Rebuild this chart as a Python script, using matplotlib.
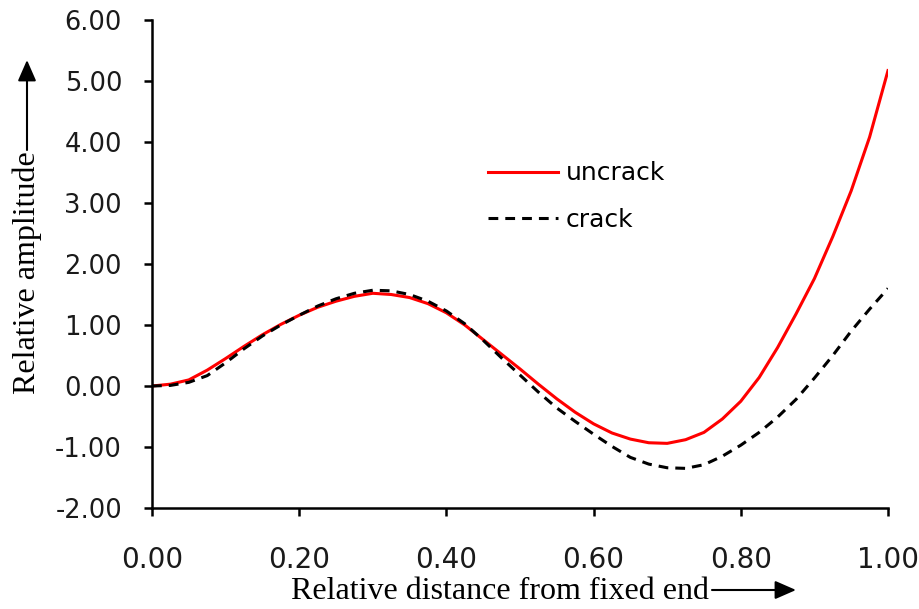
"""Relative amplitude along the beam: uncracked vs cracked mode shape."""

import matplotlib

matplotlib.use("Agg")
import matplotlib.pyplot as plt  # noqa: E402
from matplotlib.patches import FancyArrowPatch  # noqa: E402

# relative distance from the fixed end
x_pos = [0.000, 0.025, 0.050, 0.075, 0.100, 0.125, 0.150, 0.175, 0.200,
         0.225, 0.250, 0.275, 0.300, 0.325, 0.350, 0.375, 0.400, 0.425,
         0.450, 0.475, 0.500, 0.525, 0.550, 0.575, 0.600, 0.625, 0.650,
         0.675, 0.700, 0.725, 0.750, 0.775, 0.800, 0.825, 0.850, 0.875,
         0.900, 0.925, 0.950, 0.975, 1.000]

uncrack = [0.00, 0.03, 0.10, 0.26, 0.45, 0.65, 0.84, 1.01, 1.16,
           1.29, 1.39, 1.47, 1.52, 1.50, 1.45, 1.35, 1.20, 1.00,
           0.76, 0.52, 0.28, 0.03, -0.21, -0.43, -0.62, -0.77, -0.87,
           -0.93, -0.94, -0.88, -0.76, -0.54, -0.25, 0.14, 0.63, 1.18,
           1.76, 2.45, 3.20, 4.08, 5.17]

crack = [0.00, 0.01, 0.06, 0.17, 0.38, 0.61, 0.82, 1.00, 1.16,
         1.31, 1.43, 1.52, 1.57, 1.56, 1.50, 1.39, 1.23, 1.02,
         0.75, 0.46, 0.18, -0.10, -0.36, -0.58, -0.79, -0.99, -1.17,
         -1.28, -1.34, -1.35, -1.29, -1.15, -0.97, -0.76, -0.51, -0.22,
         0.13, 0.50, 0.90, 1.26, 1.60]

x_ticks = [0.0, 0.2, 0.4, 0.6, 0.8, 1.0]
y_ticks = [-2, -1, 0, 1, 2, 3, 4, 5, 6]

fig = plt.figure(figsize=(9.2, 6.09), dpi=100)
ax = fig.add_axes([0.1652, 0.1658, 0.80, 0.8014])

ax.plot(x_pos, uncrack, color="#FF0000", linewidth=2.2, label="uncrack",
        solid_joinstyle="round")
ax.plot(x_pos, crack, color="black", linewidth=2.2,
        linestyle=(0, (3.2, 2.3)), label="crack")

ax.set_xlim(0, 1)
ax.set_ylim(-2, 6)
ax.set_xticks(x_ticks)
ax.set_yticks(y_ticks)
ax.set_xticklabels([f"{v:.2f}" for v in x_ticks], fontsize=20,
                   family="DejaVu Sans", color="#1a1a1a")
ax.set_yticklabels([f"{v:.2f}" for v in y_ticks], fontsize=18.5,
                   family="DejaVu Sans", color="#1a1a1a")
ax.tick_params(axis="both", direction="out", length=5.5, width=1.8)
ax.tick_params(axis="y", pad=16)
ax.tick_params(axis="x", pad=22)
for side in ("top", "right"):
    ax.spines[side].set_visible(False)
for side in ("left", "bottom"):
    ax.spines[side].set_linewidth(1.8)

ax.legend(loc="upper left", bbox_to_anchor=(0.440, 0.736), frameon=False,
          handlelength=2.8, handletextpad=0.3, labelspacing=0.9,
          borderpad=0, prop={"family": "DejaVu Sans", "size": 18})

# axis titles in serif with pointing arrows
fig.text(0.5435, 0.016, "Relative distance from fixed end", ha="center",
         va="baseline", family="Liberation Serif", fontsize=23)
fig.text(0.030, 0.553, "Relative amplitude", ha="center", va="center",
         rotation=90, family="Liberation Serif", fontsize=23)
arrow = {"arrowstyle": "-|>,head_length=0.8,head_width=0.35",
         "color": "black", "lw": 1.5, "mutation_scale": 16,
         "shrinkA": 0, "shrinkB": 0}
fig.add_artist(FancyArrowPatch(
    (712 / 920, 1 - 590 / 609), (796 / 920, 1 - 590 / 609),
    transform=fig.transFigure, **arrow))
fig.add_artist(FancyArrowPatch(
    (27 / 920, 1 - 150 / 609), (27 / 920, 1 - 60 / 609),
    transform=fig.transFigure, **arrow))

fig.savefig("out.png", dpi=100)
